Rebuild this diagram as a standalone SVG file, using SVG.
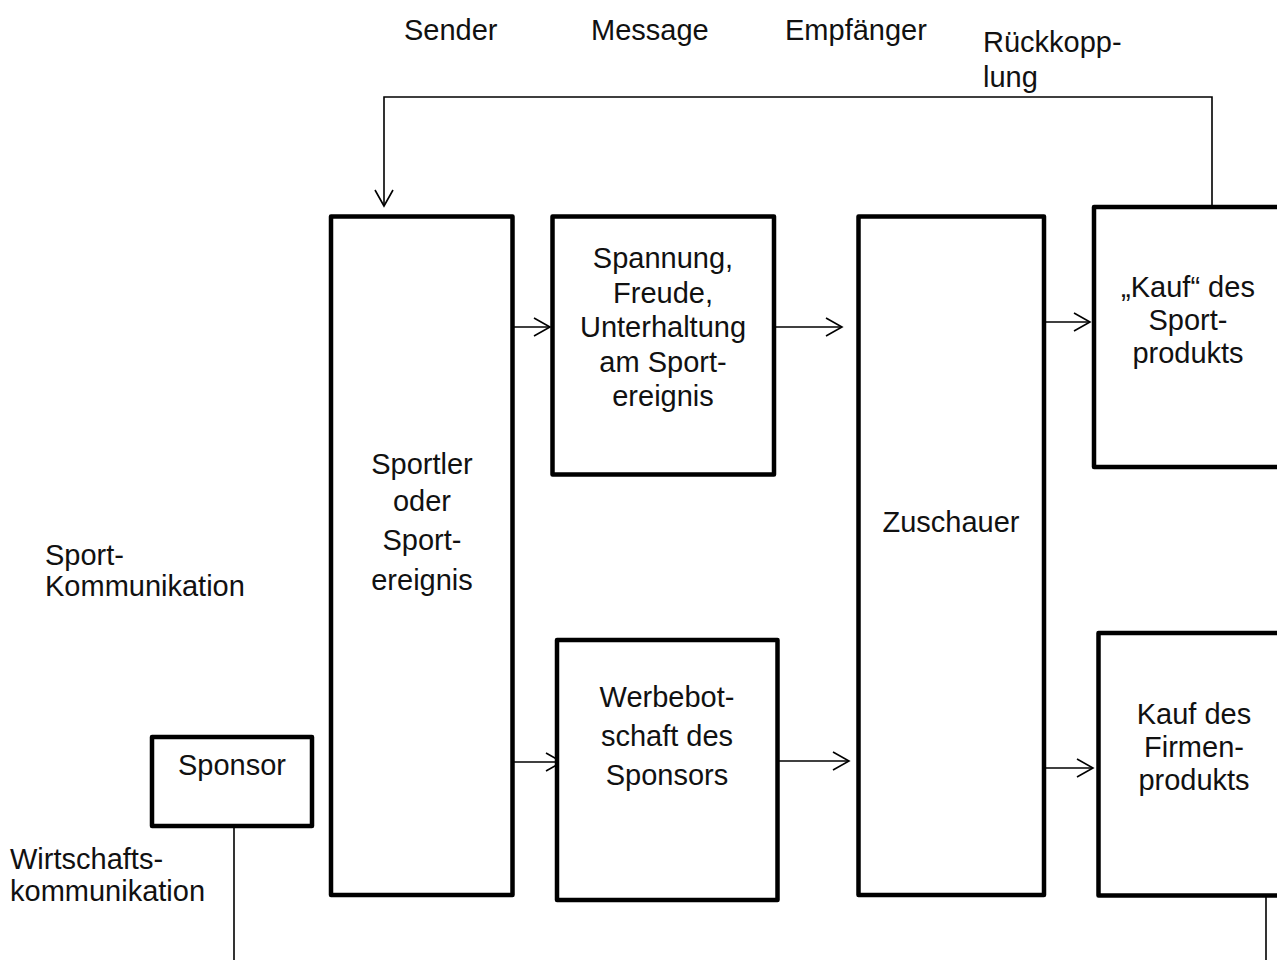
<svg xmlns="http://www.w3.org/2000/svg" width="1277" height="960" viewBox="0 0 1277 960">
  <style>
    .box { fill: #ffffff; stroke: #000000; stroke-width: 4.5; stroke-linejoin: round; }
    .t { font-family: "Liberation Sans", Arial, sans-serif; font-size: 29px; fill: #111111; }
    .c { text-anchor: middle; }
    .wire { fill: none; stroke: #000000; stroke-width: 1.6; }
  </style>
  <defs>
    <marker id="arrow" markerUnits="userSpaceOnUse" markerWidth="20" markerHeight="22" refX="17" refY="10" orient="auto">
      <path d="M1,1 L17,10 L1,19" fill="none" stroke="#000000" stroke-width="1.6"/>
    </marker>
  </defs>
  <rect width="1277" height="960" fill="#ffffff"/>

  <!-- column headings -->
  <g id="headings">
    <text class="t" x="404" y="40">Sender</text>
    <text class="t" x="591" y="40">Message</text>
    <text class="t" x="785" y="40">Empfänger</text>
    <text class="t" x="983" y="52">Rückkopp-</text>
    <text class="t" x="983" y="87">lung</text>
  </g>

  <!-- side labels -->
  <g id="label-sport">
    <text class="t" x="45" y="565">Sport-</text>
    <text class="t" x="45" y="596">Kommunikation</text>
  </g>
  <g id="label-wirtschaft">
    <text class="t" x="10" y="869">Wirtschafts-</text>
    <text class="t" x="10" y="901">kommunikation</text>
  </g>

  <!-- connectors -->
  <g id="connectors">
    <path class="wire" d="M1212,207 V97 H384 V206" marker-end="url(#arrow)"/>
    <line class="wire" x1="509" y1="327" x2="550" y2="327" marker-end="url(#arrow)"/>
    <line class="wire" x1="776" y1="327" x2="842" y2="327" marker-end="url(#arrow)"/>
    <line class="wire" x1="1046" y1="322" x2="1090" y2="322" marker-end="url(#arrow)"/>
    <line class="wire" x1="513" y1="762" x2="562" y2="762" marker-end="url(#arrow)"/>
    <line class="wire" x1="779" y1="761" x2="849" y2="761" marker-end="url(#arrow)"/>
    <line class="wire" x1="1046" y1="768" x2="1093" y2="768" marker-end="url(#arrow)"/>
    <line class="wire" x1="234" y1="828" x2="234" y2="960"/>
    <line class="wire" x1="1266" y1="897" x2="1266" y2="960"/>
  </g>

  <g id="sponsor">
    <rect class="box" x="152" y="737" width="160" height="89"/>
    <text class="t c" x="232" y="775">Sponsor</text>
  </g>

  <g id="sportler">
    <rect class="box" x="331" y="216.5" width="181.5" height="678.5"/>
    <text class="t c" x="422" y="474">Sportler</text>
    <text class="t c" x="422" y="511">oder</text>
    <text class="t c" x="422" y="550">Sport-</text>
    <text class="t c" x="422" y="590">ereignis</text>
  </g>

  <g id="spannung">
    <rect class="box" x="552.5" y="216.5" width="221.5" height="258"/>
    <text class="t c" x="663" y="268">Spannung,</text>
    <text class="t c" x="663" y="302.5">Freude,</text>
    <text class="t c" x="663" y="337">Unterhaltung</text>
    <text class="t c" x="663" y="371.5">am Sport-</text>
    <text class="t c" x="663" y="406">ereignis</text>
  </g>

  <g id="werbebotschaft">
    <rect class="box" x="557" y="640" width="220.5" height="260"/>
    <text class="t c" x="667" y="707">Werbebot-</text>
    <text class="t c" x="667" y="746">schaft des</text>
    <text class="t c" x="667" y="785">Sponsors</text>
  </g>

  <g id="zuschauer">
    <rect class="box" x="858.5" y="216.5" width="185.5" height="678.5"/>
    <text class="t c" x="951" y="532">Zuschauer</text>
  </g>

  <g id="kauf-sport">
    <rect class="box" x="1094" y="207" width="200" height="260"/>
    <text class="t c" x="1188" y="297">„Kauf“ des</text>
    <text class="t c" x="1188" y="330">Sport-</text>
    <text class="t c" x="1188" y="363">produkts</text>
  </g>

  <g id="kauf-firma">
    <rect class="box" x="1098.5" y="633" width="200" height="262.5"/>
    <text class="t c" x="1194" y="724">Kauf des</text>
    <text class="t c" x="1194" y="757">Firmen-</text>
    <text class="t c" x="1194" y="790">produkts</text>
  </g>
</svg>
